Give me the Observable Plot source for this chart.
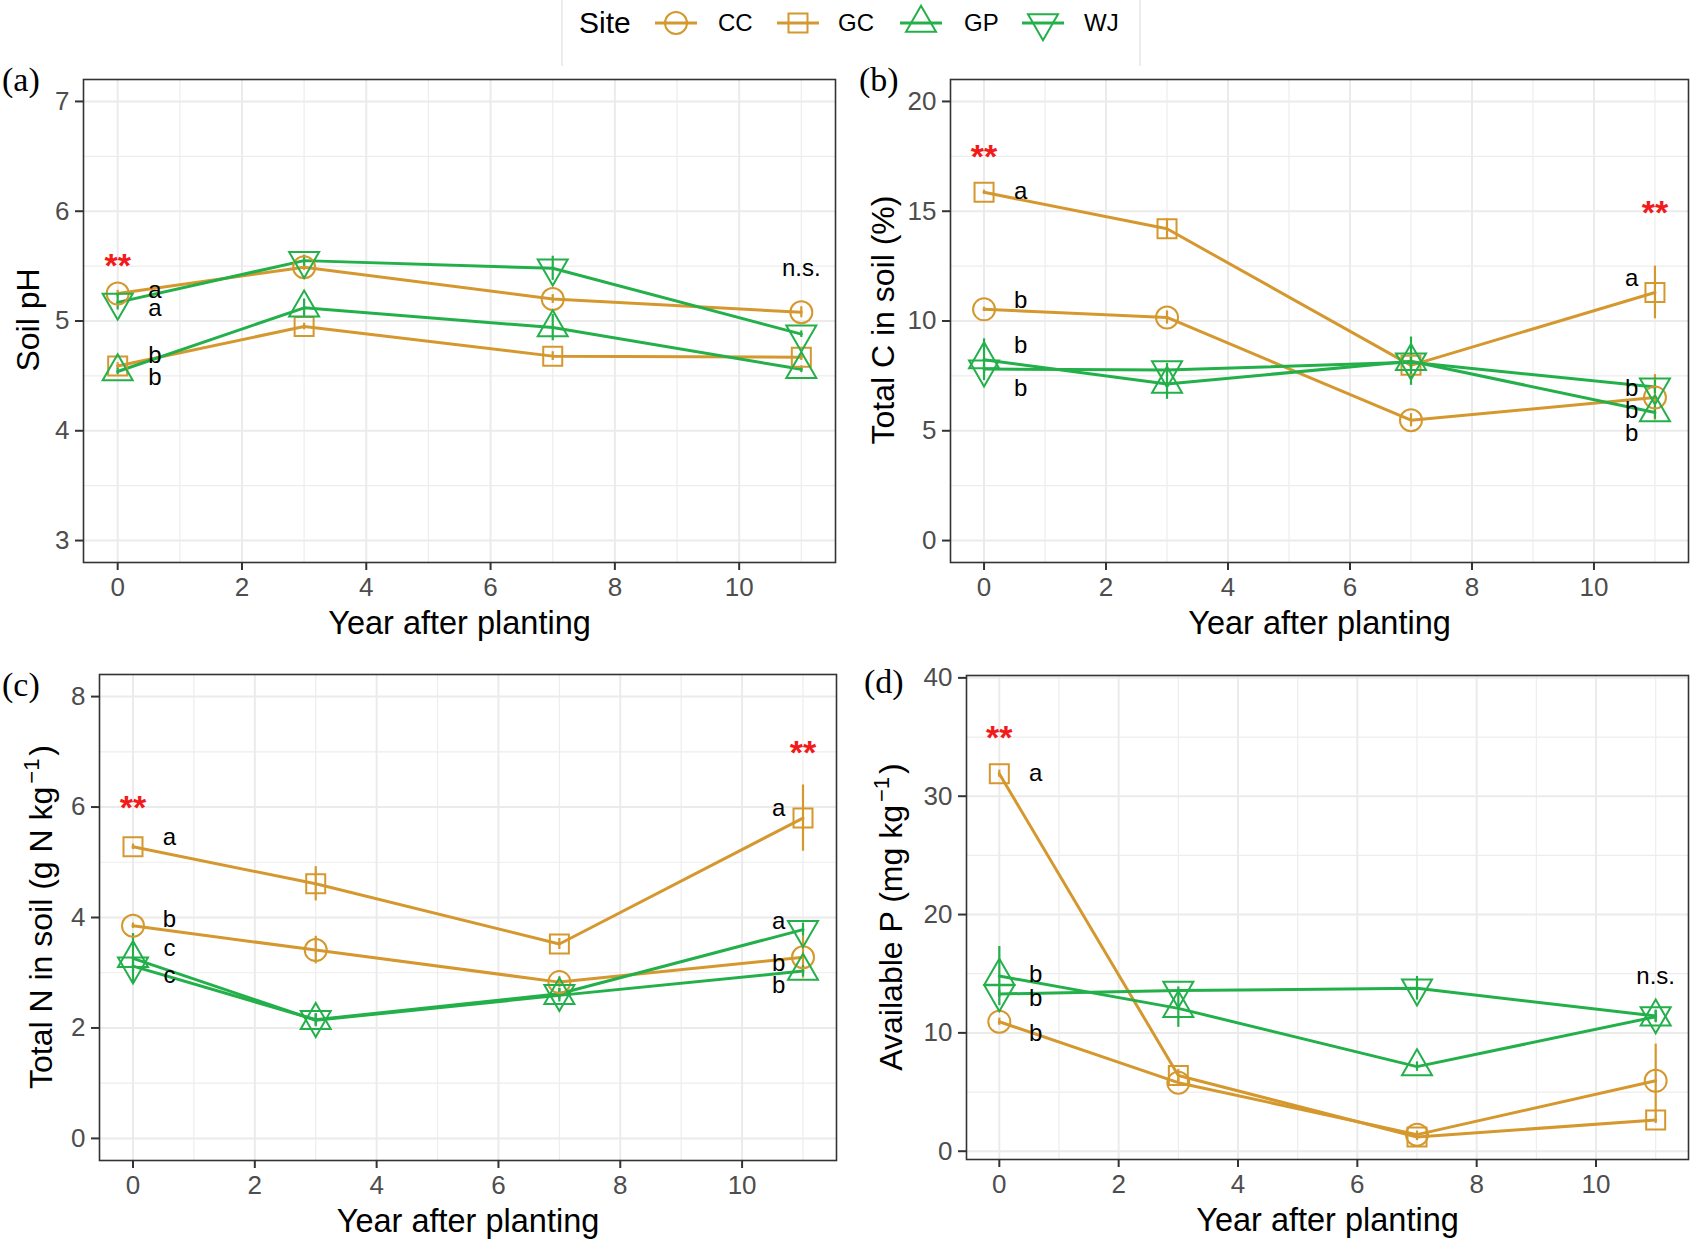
<!DOCTYPE html>
<html><head><meta charset="utf-8">
<script src="https://cdn.jsdelivr.net/npm/d3@7"></script>
<script src="https://cdn.jsdelivr.net/npm/@observablehq/plot@0.6"></script>
<style>
body{margin:0;background:#fff;}
#root{position:relative;width:1697px;height:1247px;overflow:hidden;background:#fff;font-family:"Liberation Sans",Arial,sans-serif;}
.panel{position:absolute;}
#overlay{position:absolute;left:0;top:0;pointer-events:none;}
</style></head><body><div id="root"></div>
<script>
// ---------------- data ----------------
const years = [0, 3, 7, 11];
const sites = ["CC", "GC", "GP", "WJ"];
const siteColors = ["#D5982E", "#D5982E", "#23B04A", "#23B04A"];
const xTicks = [0, 2, 4, 6, 8, 10];
const xMinor = [1, 3, 5, 7, 9, 11];
const xTitle = "Year after planting";

// (a) Soil pH  rows: CC, GC, GP, WJ ; columns: years
const pHMean = [[5.25, 5.49, 5.20, 5.08], [4.59, 4.95, 4.68, 4.67], [4.54, 5.12, 4.94, 4.56], [5.17, 5.55, 5.48, 4.88]];
const pHSE   = [[0.03, 0.03, 0.04, 0.05], [0.03, 0.03, 0.04, 0.03], [0.03, 0.08, 0.12, 0.03], [0.07, 0.05, 0.11, 0.03]];
const pHTicks = [3, 4, 5, 6, 7];
const pHMinor = [3.5, 4.5, 5.5, 6.5];
const pHLetters = [[0.6, 5.28, "a"], [0.6, 5.12, "a"], [0.6, 4.69, "b"], [0.6, 4.49, "b"]];
const pHStars = [[0, 5.58]];
const pHNS = [[11, 5.48]];

// (b) Total C (%)
const cMean = [[10.53, 10.16, 5.48, 6.52], [15.86, 14.2, 7.98, 11.3], [8.24, 7.13, 8.17, 5.83], [7.81, 7.77, 8.12, 6.99]];
const cSE   = [[0.1, 0.3, 0.3, 1.04], [0.1, 0.45, 0.4, 1.2], [0.95, 0.7, 1.1, 0.3], [0.2, 0.3, 0.3, 0.3]];
const cTicks = [0, 5, 10, 15, 20];
const cMinor = [2.5, 7.5, 12.5, 17.5];
const cLetters = [[0.6, 15.92, "a"], [0.6, 10.93, "b"], [0.6, 8.9, "b"], [0.6, 6.94, "b"],
                  [10.62, 11.93, "a"], [10.62, 6.94, "b"], [10.62, 5.95, "b"], [10.62, 4.9, "b"]];
const cStars = [[0, 17.87], [11, 15.32]];
const cNS = [];

// (c) Total N (g N kg-1)
const nMean = [[3.85, 3.41, 2.83, 3.28], [5.28, 4.61, 3.52, 5.8], [3.26, 2.14, 2.59, 3.03], [3.12, 2.15, 2.62, 3.78]];
const nSE   = [[0.05, 0.25, 0.1, 0.38], [0.05, 0.31, 0.1, 0.6], [0.45, 0.12, 0.12, 0.1], [0.1, 0.1, 0.1, 0.12]];
const nTicks = [0, 2, 4, 6, 8];
const nMinor = [1, 3, 5, 7];
const nLetters = [[0.6, 5.45, "a"], [0.6, 3.96, "b"], [0.6, 3.45, "c"], [0.6, 2.95, "c"],
                  [10.6, 5.97, "a"], [10.6, 3.94, "a"], [10.6, 3.17, "b"], [10.6, 2.78, "b"]];
const nStars = [[0, 6.14], [11, 7.14]];
const nNS = [];

// (d) Available P (mg kg-1)
const pMean = [[10.94, 5.79, 1.4, 5.95], [31.9, 6.4, 1.2, 2.64], [14.8, 12.07, 7.15, 11.36], [13.29, 13.58, 13.77, 11.43]];
const pSE   = [[0.3, 0.3, 0.3, 3.1], [0.3, 0.5, 0.3, 0.3], [2.5, 1.6, 0.4, 0.5], [0.3, 0.3, 1.0, 0.5]];
const pTicks = [0, 10, 20, 30, 40];
const pMinor = [5, 15, 25, 35];
const pLetters = [[0.61, 31.9, "a"], [0.61, 14.97, "b"], [0.61, 12.94, "b"], [0.61, 10.0, "b"]];
const pStars = [[0, 35.7]];
const pNS = [[11, 14.8]];

// ---------------- symbols ----------------
const R0 = 11;
function makeSym(fn) { return {draw(ctx, size) { fn(ctx, Math.sqrt(size / Math.PI) / R0); }}; }
const symCircle = makeSym((c, k) => { c.moveTo(11 * k, 0); c.arc(0, 0, 11 * k, 0, 2 * Math.PI); c.closePath(); });
const symSquare = makeSym((c, k) => { const s = 9.5 * k; c.moveTo(-s, -s); c.lineTo(s, -s); c.lineTo(s, s); c.lineTo(-s, s); c.closePath(); });
const symUp = makeSym((c, k) => { c.moveTo(0, -17.3 * k); c.lineTo(15 * k, 8.7 * k); c.lineTo(-15 * k, 8.7 * k); c.closePath(); });
const symDown = makeSym((c, k) => { c.moveTo(0, 17.3 * k); c.lineTo(15 * k, -8.7 * k); c.lineTo(-15 * k, -8.7 * k); c.closePath(); });
const siteSymbols = [symCircle, symSquare, symUp, symDown];

const FONT = '"Liberation Sans", Arial, Helvetica, sans-serif';
const root = document.getElementById("root");

function makePanel(cfg) {
  const rows = [];
  sites.forEach((s, si) => years.forEach((yr, yi) => rows.push({site: s, si, year: yr, v: cfg.mean[si][yi], se: cfg.se[si][yi]})));
  const marks = [
    Plot.ruleY(cfg.minor, {stroke: "#EDEDED", strokeWidth: 1.2}),
    Plot.ruleX(xMinor, {stroke: "#EDEDED", strokeWidth: 1.2}),
    Plot.ruleY(cfg.ticks, {stroke: "#EBEBEB", strokeWidth: 2}),
    Plot.ruleX(xTicks, {stroke: "#EBEBEB", strokeWidth: 2}),
    Plot.axisX({ticks: xTicks, tickFormat: d => String(d), tickSize: 8, tickPadding: 7, fontSize: 26, fill: "#4D4D4D", stroke: "#333333", strokeWidth: 2, label: null}),
    Plot.axisY({ticks: cfg.ticks, tickFormat: d => String(d), tickSize: 8, tickPadding: 6, fontSize: 26, fill: "#4D4D4D", stroke: "#333333", strokeWidth: 2, label: null})
  ];
  sites.forEach((s, si) => {
    marks.push(Plot.line(rows.filter(d => d.si === si), {x: "year", y: "v", stroke: siteColors[si], strokeWidth: 3}));
  });
  sites.forEach((s, si) => {
    marks.push(Plot.ruleX(rows.filter(d => d.si === si), {x: "year", y1: d => d.v - d.se, y2: d => d.v + d.se, stroke: siteColors[si], strokeWidth: 2.2}));
  });
  sites.forEach((s, si) => {
    marks.push(Plot.dot(rows.filter(d => d.si === si), {x: "year", y: "v", symbol: siteSymbols[si], r: R0, stroke: siteColors[si], strokeWidth: 2, fill: "none"}));
  });
  marks.push(
    Plot.text(cfg.letters, {x: d => d[0], y: d => d[1], text: d => d[2], fontSize: 24, fill: "black"}),
    Plot.text(cfg.stars, {x: d => d[0], y: d => d[1], text: () => "**", fontSize: 34, fontWeight: "bold", fill: "#F21B1B", dy: 9}),
    Plot.text(cfg.ns, {x: d => d[0], y: d => d[1], text: () => "n.s.", fontSize: 24, fill: "black"}),
    Plot.text([xTitle], {frameAnchor: "bottom", text: d => d, dy: 71, fontSize: 32.5, fill: "black"}),
    Plot.frame({stroke: "#333333", strokeWidth: 1.6})
  );
  const svg = Plot.plot({
    width: cfg.w, height: cfg.h,
    marginLeft: cfg.m[3], marginRight: cfg.m[1], marginTop: cfg.m[0], marginBottom: cfg.m[2],
    x: {domain: [-0.55, 11.55], label: null},
    y: {domain: cfg.yDomain, label: null},
    style: {fontFamily: FONT, background: "white", overflow: "visible"},
    marks
  });
  svg.classList.add("panel");
  svg.style.left = cfg.left + "px";
  svg.style.top = cfg.top + "px";
  root.appendChild(svg);
}

const yTitles = [["Soil pH"], ["Total C in soil (%)"], ["Total N in soil (g N kg", "\u22121", ")"], ["Available P (mg kg", "\u22121", ")"]];

makePanel({mean: pHMean, se: pHSE, ticks: pHTicks, minor: pHMinor, yDomain: [2.8, 7.2], letters: pHLetters, stars: pHStars, ns: pHNS,
  left: 0, top: 62, w: 848, h: 588, m: [17, 13, 88, 83]});
makePanel({mean: cMean, se: cSE, ticks: cTicks, minor: cMinor, yDomain: [-1, 21], letters: cLetters, stars: cStars, ns: cNS,
  left: 848, top: 62, w: 849, h: 588, m: [17, 9, 88, 102]});
makePanel({mean: nMean, se: nSE, ticks: nTicks, minor: nMinor, yDomain: [-0.4, 8.4], letters: nLetters, stars: nStars, ns: nNS,
  left: 0, top: 650, w: 848, h: 597, m: [24, 12, 87, 99]});
makePanel({mean: pMean, se: pSE, ticks: pTicks, minor: pMinor, yDomain: [-0.7, 40.2], letters: pLetters, stars: pStars, ns: pNS,
  left: 848, top: 650, w: 849, h: 597, m: [25, 9, 88, 118]});

// ---------------- overlay: legend, y titles, panel tags ----------------
const ov = d3.select(root).append("svg").attr("id", "overlay").attr("width", 1697).attr("height", 1247);
ov.append("line").attr("x1", 562).attr("x2", 562).attr("y1", 0).attr("y2", 66).attr("stroke", "#E6E6E6").attr("stroke-width", 1.5);
ov.append("line").attr("x1", 1140).attr("x2", 1140).attr("y1", 0).attr("y2", 66).attr("stroke", "#E6E6E6").attr("stroke-width", 1.5);
ov.append("text").attr("x", 579).attr("y", 33).attr("font-family", FONT).attr("font-size", 30).text("Site");
const keyX = [676, 798, 921, 1043];
const labX = [718, 838, 964, 1084];
sites.forEach((s, si) => {
  const g = ov.append("g").attr("transform", `translate(${keyX[si]},23)`);
  g.append("line").attr("x1", -21).attr("x2", 21).attr("stroke", siteColors[si]).attr("stroke-width", 3);
  g.append("path").attr("d", d3.symbol(siteSymbols[si], Math.PI * R0 * R0)()).attr("fill", "none").attr("stroke", siteColors[si]).attr("stroke-width", 2);
  ov.append("text").attr("x", labX[si]).attr("y", 31).attr("font-family", FONT).attr("font-size", 24).text(s);
});
const yTitlePos = [[27, 320], [882, 320], [40, 917], [890, 917]];
yTitles.forEach((parts, i) => {
  const [x, y] = yTitlePos[i];
  const t = ov.append("text").attr("transform", `translate(${x},${y}) rotate(-90)`).attr("text-anchor", "middle")
    .attr("dy", "0.36em").attr("font-family", FONT).attr("font-size", 32);
  t.append("tspan").text(parts[0]);
  if (parts.length === 3) {
    t.append("tspan").attr("dy", -13).attr("dx", 3).attr("font-size", 22).text(parts[1]);
    t.append("tspan").attr("dy", 13).attr("dx", 3).text(parts[2]);
  }
});
const tags = [["(a)", 2, 91], ["(b)", 859, 91], ["(c)", 2, 696], ["(d)", 864, 693]];
tags.forEach(([t, x, y]) => ov.append("text").attr("x", x).attr("y", y).attr("font-family", '"Liberation Serif", "Times New Roman", serif').attr("font-size", 34).text(t));
</script></body></html>
